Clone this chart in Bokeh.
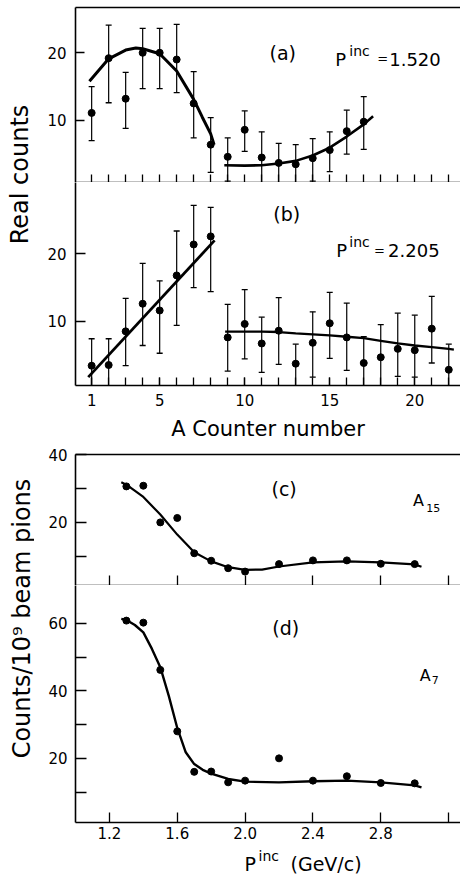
import math
from bokeh.plotting import figure
from bokeh.layouts import row, column
from bokeh.models import Range1d, FixedTicker, Label, LinearAxis, PrintfTickFormatter
from bokeh.embed import file_html
from bokeh.resources import INLINE

FONT = "DejaVu Sans"

# ---------------- data ----------------
counter_a = list(range(1, 18))
real_a = [11.1, 19.2, 13.2, 20.0, 20.0, 19.0, 12.5, 6.4, 4.6, 8.6, 4.5, 3.7, 3.5, 4.4, 5.6, 8.4, 9.8]
hi_a = [15.0, 24.1, 17.1, 23.6, 23.6, 24.2, 17.2, 10.4, 7.4, 11.4, 8.3, 6.6, 6.4, 7.3, 8.3, 11.5, 13.5]
lo_a = [7.0, 12.6, 8.8, 14.7, 14.7, 14.1, 7.4, 2.3, 1.0, 5.4, 0.5, 0.5, 0.5, 1.0, 2.4, 5.0, 5.7]
fit_a1_x = [0.87, 2.0, 3.0, 3.6, 4.0, 5.0, 6.0, 7.0, 7.5, 8.0, 8.2]
fit_a1_y = [15.8, 19.1, 20.4, 20.7, 20.6, 19.85, 17.3, 13.1, 10.5, 8.0, 6.4]
fit_a2_x = [8.8, 10.0, 11.0, 12.0, 13.0, 14.0, 15.0, 16.0, 17.0, 17.55]
fit_a2_y = [3.35, 3.3, 3.35, 3.6, 4.0, 4.8, 5.95, 7.6, 9.4, 10.6]

counter_b = list(range(1, 23))
real_b = [3.4, 3.5, 8.5, 12.6, 11.6, 16.8, 21.4, 22.6, 7.6, 9.6, 6.7, 8.6, 3.7, 6.8, 9.7, 7.6, 3.8, 4.65, 5.9, 5.7, 8.9, 2.8]
hi_b = [7.4, 7.4, 13.4, 18.6, 16.0, 23.4, 27.2, 26.9, 12.5, 14.7, 10.6, 13.5, 6.6, 11.4, 14.3, 12.7, 7.7, 9.5, 11.2, 10.9, 13.7, 6.6]
lo_b = [0.0, 0.0, 3.4, 6.4, 5.25, 9.4, 15.0, 14.4, 2.6, 4.4, 2.4, 3.6, 0.0, 1.7, 4.5, 2.7, 0.0, 0.0, 1.8, 1.7, 3.8, 0.0]
fit_b1_x = [0.8, 8.23]
fit_b1_y = [1.7, 22.0]
fit_b2_x = [8.85, 10.0, 11.0, 12.0, 13.0, 14.0, 15.0, 16.0, 17.0, 18.0, 19.0, 20.0, 21.0, 22.0, 22.3]
fit_b2_y = [8.45, 8.45, 8.45, 8.4, 8.2, 8.05, 7.9, 7.7, 7.5, 7.1, 6.7, 6.4, 6.15, 5.9, 5.8]

p_inc = [1.3, 1.4, 1.5, 1.6, 1.7, 1.8, 1.9, 2.0, 2.2, 2.4, 2.6, 2.8, 3.0]
counts_c = [30.6, 30.8, 20.0, 21.3, 10.9, 8.7, 6.5, 5.5, 7.7, 8.8, 8.8, 7.8, 7.7]
counts_d = [60.8, 60.2, 46.2, 28.0, 16.0, 16.1, 12.9, 13.4, 20.0, 13.4, 14.7, 12.7, 12.6]
fit_c_x = [1.27, 1.3, 1.4, 1.5, 1.6, 1.7, 1.8, 1.9, 2.0, 2.1, 2.2, 2.4, 2.6, 2.8, 3.0, 3.04]
fit_c_y = [31.8, 31.1, 27.5, 22.3, 16.4, 11.2, 8.5, 6.8, 6.0, 6.1, 7.0, 8.2, 8.5, 8.2, 7.6, 6.9]
fit_d_x = [1.27, 1.3, 1.35, 1.4, 1.45, 1.5, 1.55, 1.6, 1.65, 1.7, 1.75, 1.8, 1.9, 2.0, 2.2, 2.4, 2.6, 2.8, 3.0, 3.04]
fit_d_y = [61.3, 61.0, 59.5, 57.3, 52.5, 47.0, 38.5, 29.0, 21.8, 18.3, 16.6, 15.5, 13.9, 13.1, 12.9, 13.2, 13.4, 12.9, 12.0, 11.4]

ticks_ab_y = [10, 20]
ticks_c_y = [20, 40]
ticks_c_minor = [10, 30]
ticks_d_y = [20, 40, 60]
ticks_d_minor = [10, 30, 50]
ticks_p = [1.2, 1.6, 2.0, 2.4, 2.8]
ticks_p_all = [1.2, 1.6, 2.0, 2.4, 2.8, 3.2]
ticks_p_minor = [3.2]
ticks_counter = [1, 5, 10, 15, 20]
ticks_counter_minor = list(range(1, 23))

L = 34  # width of the strip carrying the vertical axis titles
W = 460 - L
HB = 31  # height of the strip carrying the bottom x-axis title
HTOP = 844


def base_fig(height, xr, yr, left, top, bottom):
    p = figure(width=W, height=height, x_range=xr, y_range=yr,
               output_backend="svg", toolbar_location=None,
               min_border_left=left, min_border_right=0,
               min_border_top=top, min_border_bottom=bottom,
               outline_line_color=None, background_fill_color="white",
               border_fill_color="white")
    p.grid.visible = False
    for ax in p.axis:
        ax.axis_line_width = 1.6
        ax.major_tick_line_width = 1.3
        ax.minor_tick_line_width = 1.3
        ax.major_tick_out = 0
        ax.minor_tick_out = 0
        ax.major_label_text_font = FONT
        ax.major_label_text_font_size = "15px"
        ax.major_label_text_color = "black"
        ax.axis_line_color = "black"
        ax.major_tick_line_color = "black"
        ax.minor_tick_line_color = "black"
    return p


def blank_fig(width, height):
    p = figure(width=width, height=height, x_range=Range1d(0, width), y_range=Range1d(height, 0),
               title=None, output_backend="svg", toolbar_location=None,
               x_axis_type=None, y_axis_type=None,
               min_border_left=0, min_border_right=0, min_border_top=0, min_border_bottom=0,
               outline_line_color=None, border_fill_color="white", background_fill_color="white")
    p.grid.visible = False
    return p


def ticks_only(ax, ticks, length):
    # ticks without labels: all given as minor ticks of a fixed ticker
    ax.ticker = FixedTicker(ticks=[], minor_ticks=ticks)
    ax.minor_tick_in = length
    ax.major_label_standoff = 0


def top_line(p):
    ax = LinearAxis(ticker=FixedTicker(ticks=[], minor_ticks=[]), axis_line_width=1.6,
                    major_tick_in=0, major_tick_out=0, minor_tick_in=0, minor_tick_out=0,
                    major_label_standoff=0)
    p.add_layout(ax, "above")


def errbars(p, x, y, lo, hi):
    p.segment(x0=x, y0=lo, x1=x, y1=hi, line_color="black", line_width=1.2)
    p.scatter(x=x, y=hi, marker="dash", size=6, line_color="black", line_width=1.3)
    p.scatter(x=x, y=lo, marker="dash", size=6, line_color="black", line_width=1.3)
    p.scatter(x=x, y=y, marker="circle", size=7, fill_color="black", line_color="black")


def text(p, x, y, s, size, align="left", baseline="alphabetic", angle=0.0):
    p.add_layout(Label(x=x, y=y, text=s, text_font=FONT, text_font_size=size, angle=angle,
                       text_align=align, text_baseline=baseline, text_color="black"))


# ---------------- panel (a) ----------------
pa = base_fig(182, Range1d(0.05, 22.69), Range1d(0.8, 26.7), 72 - L, 7, 0)
ticks_only(pa.below[0], ticks_counter_minor, 8)
top_line(pa)
pa.yaxis.ticker = FixedTicker(ticks=ticks_ab_y, minor_ticks=[])
pa.yaxis.major_tick_in = 9
pa.yaxis.major_label_standoff = 9
errbars(pa, counter_a, real_a, lo_a, hi_a)
pa.line(fit_a1_x, fit_a1_y, line_color="black", line_width=3)
pa.line(fit_a2_x, fit_a2_y, line_color="black", line_width=2.6)
text(pa, 12.24, 19.95, "(a)", "19px", align="center", baseline="middle")
text(pa, 15.33, 19.06, "P", "18px")
text(pa, 16.15, 20.3, "inc", "14px")
text(pa, 17.8, 19.1, "=", "13px")
text(pa, 18.5, 19.06, "1.520", "18px")

# ---------------- panel (b) ----------------
pb = base_fig(263, Range1d(0.05, 22.69), Range1d(0.46, 30.6), 72 - L, 0, 60)
pb.xaxis.ticker = FixedTicker(ticks=ticks_counter, minor_ticks=ticks_counter_minor)
pb.xaxis.major_tick_in = 8
pb.xaxis.minor_tick_in = 8
pb.xaxis.major_label_standoff = 8
pb.xaxis.axis_label = "A Counter number"
pb.xaxis.axis_label_text_font = FONT
pb.xaxis.axis_label_text_font_size = "21px"
pb.xaxis.axis_label_text_font_style = "normal"
pb.xaxis.axis_label_text_color = "black"
pb.xaxis.axis_label_standoff = 8
pb.yaxis.ticker = FixedTicker(ticks=ticks_ab_y, minor_ticks=[])
pb.yaxis.major_tick_in = 10
pb.yaxis.major_label_standoff = 9
errbars(pb, counter_b, real_b, lo_b, hi_b)
pb.line(fit_b1_x, fit_b1_y, line_color="black", line_width=2.8)
pb.line(fit_b2_x, fit_b2_y, line_color="black", line_width=2.3)
text(pb, 12.47, 25.86, "(b)", "19px", align="center", baseline="middle")
text(pb, 15.39, 20.49, "P", "18px")
text(pb, 16.15, 21.7, "inc", "14px")
text(pb, 17.61, 20.49, "=", "13px")
text(pb, 18.43, 20.49, "2.205", "18px")

# ---------------- panel (c) ----------------
pc = base_fig(140, Range1d(1.0, 3.27), Range1d(1.4, 40.0), 75 - L, 9, 0)
ticks_only(pc.below[0], ticks_p_all, 10)
top_line(pc)
pc.yaxis.ticker = FixedTicker(ticks=ticks_c_y, minor_ticks=ticks_c_minor)
pc.yaxis.major_tick_in = 11
pc.yaxis.minor_tick_in = 11
pc.yaxis.major_label_standoff = 8
pc.line(fit_c_x, fit_c_y, line_color="black", line_width=2.2)
pc.scatter(x=p_inc, y=counts_c, marker="circle", size=7, fill_color="black", line_color="black")
text(pc, 2.23, 29.96, "(c)", "19px", align="center", baseline="middle")
text(pc, 2.99, 26.4, "A", "16px")
text(pc, 3.068, 24.3, "15", "11px")

# ---------------- panel (d) ----------------
pd_ = base_fig(259, Range1d(1.0, 3.27), Range1d(1.0, 71.2), 75 - L, 0, 22)
pd_.xaxis.ticker = FixedTicker(ticks=ticks_p, minor_ticks=ticks_p_minor)
pd_.xaxis.formatter = PrintfTickFormatter(format="%.1f")
pd_.xaxis.major_tick_in = 10
pd_.xaxis.minor_tick_in = 10
pd_.xaxis.major_label_standoff = 4
pd_.yaxis.ticker = FixedTicker(ticks=ticks_d_y, minor_ticks=ticks_d_minor)
pd_.yaxis.major_tick_in = 11
pd_.yaxis.minor_tick_in = 11
pd_.yaxis.major_label_standoff = 8
pd_.line(fit_d_x, fit_d_y, line_color="black", line_width=2.4)
pd_.scatter(x=p_inc, y=counts_d, marker="circle", size=7, fill_color="black", line_color="black")
text(pd_, 2.24, 58.73, "(d)", "19px", align="center", baseline="middle")
text(pd_, 3.03, 44.5, "A", "16px")
text(pd_, 3.1, 43.2, "7", "11px")

# ---------------- strip with vertical axis titles ----------------
ps = blank_fig(L, HTOP)
text(ps, 19, 174, "Real counts", "24px", align="center", baseline="middle", angle=math.pi / 2)
text(ps, 21, 618, "Counts/10\u2079 beam pions", "24px", align="center", baseline="middle",
     angle=math.pi / 2)

# ---------------- strip under everything: x-axis title P^inc (GeV/c) ----------------
pt = blank_fig(460, HB)
text(pt, 244, 19, "P", "19px")
text(pt, 258, 11, "inc", "14px")
text(pt, 290, 19, "(GeV/c)", "19px")

top = row(ps, column(pa, pb, pc, pd_, spacing=0), spacing=0)
p = column(top, pt, spacing=0)
open("out.html", "w").write(file_html(p, INLINE))
